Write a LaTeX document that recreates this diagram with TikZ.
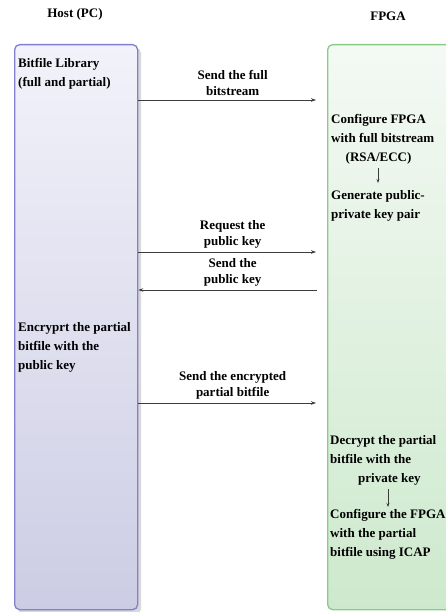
\documentclass[tikz,border=0pt]{standalone}
\usepackage{fontspec}
\setmainfont{Liberation Serif}
\usetikzlibrary{arrows.meta, positioning, calc}

\definecolor{hostline}{RGB}{128,128,204}
\definecolor{hosttop}{RGB}{242,242,250}
\definecolor{hostbot}{RGB}{204,205,228}
\definecolor{fpgaline}{RGB}{136,204,136}
\definecolor{fpgatop}{RGB}{244,249,244}
\definecolor{fpgabot}{RGB}{205,233,205}
\definecolor{msgline}{RGB}{60,60,60}

\tikzset{
  lane/.style={rounded corners=5pt, line width=1.3pt, minimum height=565pt,
    anchor=north west, inner sep=0pt},
  boxtext/.style={font=\fontsize{13}{19}\selectfont\bfseries, inner sep=0pt,
    align=left, anchor=north west},
  msgtext/.style={font=\fontsize{13}{16}\selectfont\bfseries, inner sep=0pt,
    align=center},
  msg/.style={draw=msgline, line width=0.8pt, -{Stealth[length=5pt,width=3.5pt]}},
  substep/.style={draw=msgline, line width=0.7pt, -{Stealth[length=4pt,width=3pt]}}
}

\begin{document}
\begin{tikzpicture}[x=1pt, y=-1pt]
\useasboundingbox (0,0) rectangle (446,612);
\clip (0,0) rectangle (446,612);

% lanes
\fill[gray!30, rounded corners=5pt] (18,48) rectangle (141,614);
\node[lane, draw=hostline, top color=hosttop, bottom color=hostbot,
  minimum width=123pt] (host) at (14,44) {};
\node[lane, draw=fpgaline, top color=fpgatop, bottom color=fpgabot,
  minimum width=130pt] (fpga) at (327,44) {};

\node[font=\fontsize{13}{16}\selectfont\bfseries, inner sep=0pt] (hosttitle) at (75,14) {Host (PC)};
\node[font=\fontsize{13}{16}\selectfont\bfseries, inner sep=0pt] (fpgatitle) at (388,16) {FPGA};

% host side
\node[boxtext] (library) at (18,58) {Bitfile Library\\(full and partial)};
\node[boxtext] (encrypt) at (18,322) {Encryprt the partial\\bitfile with the\\public key};

% fpga side
\node[boxtext] (cfgfull) at (331,114) {Configure FPGA\\with full bitstream\\\hspace*{14.5pt}(RSA/ECC)};
\node[boxtext] (genkey) at (331,190) {Generate public-\\private key pair};
\node[boxtext] (decrypt) at (330,435) {Decrypt the partial\\bitfile with the\\\hspace*{28pt}private key};
\node[boxtext] (cfgpart) at (330,509) {Configure the FPGA\\with the partial\\bitfile using ICAP};

\draw[substep, shorten <=4pt, shorten >=7pt] (378,0 |- cfgfull.south) -- (378,0 |- genkey.north);
\draw[substep, shorten <=4pt, shorten >=2pt] (388,0 |- decrypt.south) -- (388,0 |- cfgpart.north);

% messages
\draw[msg, shorten >=11pt] (host.east |- 0,100) -- (fpga.west |- 0,100)
  node[msgtext, midway, above=3.5pt] {Send the full\\bitstream};
\draw[msg, shorten >=11pt] (host.east |- 0,252) -- (fpga.west |- 0,252)
  node[msgtext, midway, above=3.5pt] {Request the\\public key};
\draw[msg, shorten <=10pt] (fpga.west |- 0,290) -- (host.east |- 0,290)
  node[msgtext, midway, above=3.5pt] {Send the\\public key};
\draw[msg, shorten >=11pt] (host.east |- 0,403) -- (fpga.west |- 0,403)
  node[msgtext, midway, above=3.5pt] {Send the encrypted\\partial bitfile};
\end{tikzpicture}
\end{document}
